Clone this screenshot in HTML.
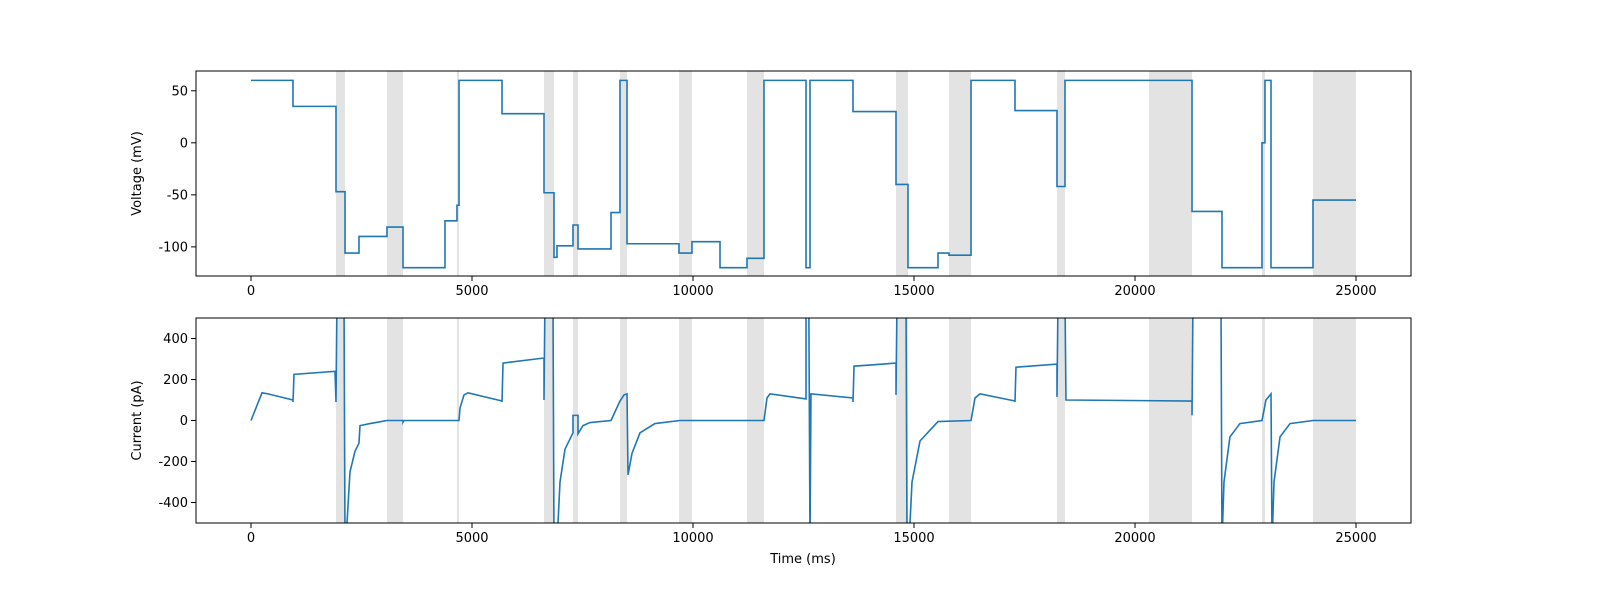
<!DOCTYPE html>
<html><head><meta charset="utf-8"><style>
html,body{margin:0;padding:0;background:#fff;}
svg text{font-family:"DejaVu Sans","Liberation Sans",sans-serif;font-size:13px;fill:#000;}
</style></head><body>
<svg id="fig" width="1600" height="600" xmlns="http://www.w3.org/2000/svg"></svg>
<script>
const xTicks=[0,5000,10000,15000,20000,25000];
const vTicks=[50,0,-50,-100];
const iTicks=[400,200,0,-200,-400];
const shadeStarts=[1923,3077,4660,6629,7285,8348,9683,11222,14593,15792,18235,20317,22873,24027];
const shadeEnds=[2127,3439,4706,6855,7398,8507,9977,11606,14864,16290,18416,21290,22941,25000];
// voltage step protocol: step start times and levels
const vTimes=[0,950,1923,2127,2443,3077,3439,4389,4660,4706,5679,6629,6855,6923,7285,7398,8145,8348,8507,9683,9977,10611,11222,11606,12557,12647,13620,14593,14864,15543,15792,16290,17285,18235,18416,21290,21968,22873,22941,23077,24027];
const vLevels=[60,35,-47,-106,-90,-81,-120,-75,-60,60,28,-48,-110,-99,-79,-102,-67,60,-97,-106,-95,-120,-111,60,-120,60,30,-40,-120,-106,-108,60,31,-42,60,-66,-120,0,60,-120,-55];
const vEnd=25000;
// current trace keypoints
const iTimes=[0,249,385,950,950,973,1900,1923,1945,2104,2127,2150,2172,2240,2353,2443,2466,2692,3077,3439,3439,3460,4706,4728,4819,4910,5679,5679,5702,6629,6629,6651,6832,6855,6923,6991,7104,7285,7285,7398,7398,7510,7669,8145,8348,8439,8507,8530,8620,8801,9140,9706,11606,11674,11742,12557,12557,12620,12647,12669,13620,13620,13643,14593,14593,14616,14819,14842,14887,14955,15136,15543,16290,16380,16493,17285,17285,17307,18235,18235,18258,18416,18438,21290,21290,21312,21945,21968,22013,22148,22374,22873,22963,23077,23100,23145,23281,23507,24027,25000];
const iValues=[0,135,130,100,90,225,240,90,600,600,-600,-600,-500,-250,-150,-110,-25,-15,0,0,-8,0,0,60,125,135,95,90,280,305,100,600,600,-600,-600,-300,-140,-60,25,25,-65,-25,-10,0,95,125,130,-265,-160,-60,-15,0,0,110,130,105,600,600,-600,130,110,90,265,280,125,600,600,-600,-600,-300,-100,-5,0,110,130,95,90,260,275,115,600,600,100,95,25,600,600,-600,-300,-80,-15,0,100,130,-600,-300,-80,-15,0,0];

const NS="http://www.w3.org/2000/svg";
const svg=document.getElementById('fig');
function mk(tag,attrs,parent){const e=document.createElementNS(NS,tag);for(const k in attrs)e.setAttribute(k,attrs[k]);(parent||svg).appendChild(e);return e;}
const X0=196,X1=1411;
const sx=t=>251+t*0.0442;
function panel(name,top,bot,ymin,ymax,yTicks,ylabel,drawFn,showX){
  const sy=v=>bot-(v-ymin)/(ymax-ymin)*(bot-top);
  const g=mk('g',{});
  
  
  const cid='clip-'+name;
  const cp=mk('clipPath',{id:cid},g);mk('rect',{x:X0,y:top,width:X1-X0,height:bot-top},cp);
  for(let i=0;i<shadeStarts.length;i++){
    const r=mk('rect',{x:sx(shadeStarts[i]),y:top,width:sx(shadeEnds[i])-sx(shadeStarts[i]),height:bot-top,fill:'#e3e3e3'},g);
    
    
  }
  const d=drawFn(sy);
  const p=mk('path',{d:d,fill:'none',stroke:'#1f77b4','stroke-width':1.6,'clip-path':'url(#'+cid+')','stroke-linejoin':'miter'},g);
  
  
  mk('rect',{x:X0,y:top,width:X1-X0,height:bot-top,fill:'none',stroke:'#000','stroke-width':1},g);
  xTicks.forEach(t=>{
    mk('line',{x1:sx(t),x2:sx(t),y1:bot,y2:bot+5,stroke:'#000','stroke-width':1},g);
    const tx=mk('text',{x:sx(t),y:bot+19,'text-anchor':'middle'},g);tx.textContent=t;
    
    
  });
  yTicks.forEach(v=>{
    mk('line',{x1:X0-5,x2:X0,y1:sy(v),y2:sy(v),stroke:'#000','stroke-width':1},g);
    const tx=mk('text',{x:X0-8,y:sy(v)+4.5,'text-anchor':'end'},g);tx.textContent=v;
    
    
  });
  const yl=mk('text',{x:0,y:0,'text-anchor':'middle',transform:`translate(141,${(top+bot)/2}) rotate(-90)`},g);
  yl.textContent=ylabel;
  
  
}
panel('voltage-panel',71,276,-128,69,vTicks,'Voltage (mV)',sy=>{
  let d='M'+sx(vTimes[0])+','+sy(vLevels[0]);
  for(let i=1;i<vTimes.length;i++){d+=' L'+sx(vTimes[i])+','+sy(vLevels[i-1])+' L'+sx(vTimes[i])+','+sy(vLevels[i]);}
  d+=' L'+sx(vEnd)+','+sy(vLevels[vLevels.length-1]);
  return d;
});
panel('current-panel',318,523,-500,500,iTicks,'Current (pA)',sy=>{
  let d='';
  for(let i=0;i<iTimes.length;i++){d+=(i?' L':'M')+sx(iTimes[i])+','+sy(iValues[i]);}
  return d;
});
const xl=mk('text',{x:803,y:563,'text-anchor':'middle'});
xl.textContent='Time (ms)';


</script>
</body></html>
